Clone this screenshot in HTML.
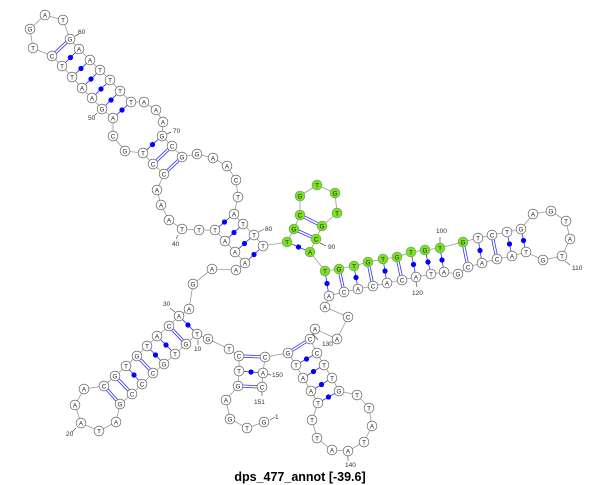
<!DOCTYPE html>
<html><head><meta charset="utf-8"><style>
body{margin:0;background:#fff}
svg{display:block}
text{font-family:"Liberation Sans",sans-serif}
</style></head><body>
<svg id="s" width="600" height="485" viewBox="0 0 600 485" xmlns="http://www.w3.org/2000/svg">
<g id="bb"></g><g id="pp"></g><g id="nn"></g><g id="ll" font-size="6.5" fill="#333"></g>
<text x="300" y="481" text-anchor="middle" font-size="12.5" font-weight="bold" fill="#000">dps_477_annot [-39.6]</text>
</svg>
<script>
var N=[
["G",264,422],["T",247,428],["G",230,419],["A",226,400],["G",238,386],["T",239,371],["C",239,356],["T",229,349],["G",208,339],["T",197,334],
["G",186,344],["T",175,354],["G",164,364],["C",153,373],["C",142,384],["C",132,394],["G",120,404],["A",116,422],["T",99,431],["A",81,423],
["A",75,405],["A",84,389],["C",104,386],["G",115,376],["T",126,366],["G",137,356],["T",147,346],["A",157,336],["C",169,326],["A",179,316],
["A",189,309],["G",193,284],["A",212,269],["A",236,270],["A",245,263],["A",235,252],["A",225,241],["T",215,230],["T",199,230],["T",182,229],
["A",169,220],["A",161,205],["A",157,190],["C",164,174],["C",153,164],["T",143,153],["G",125,151],["C",113,136],["A",113,118],["G",102,109],
["A",92,98],["A",82,88],["T",72,77],["T",62,66],["C",52,56],["T",33,48],["G",30,29],["A",45,15],["T",63,20],["G",70,39],
["A",79,49],["A",90,60],["T",100,70],["T",110,80],["T",120,91],["T",131,102],["A",144,102],["A",156,110],["A",163,122],["G",162,136],
["C",172,146],["G",182,157],["G",197,154],["A",213,158],["A",227,166],["C",236,180],["T",238,197],["A",234,214],["T",243,224],["T",254,235],
["T",263,246],["T",287,242],["G",294,229],["C",300,215],["G",300,196],["T",317,185],["G",335,193],["T",337,213],["G",322,226],["C",316,239],
["A",310,252],["T",325,271],["G",339,269],["T",354,266],["G",368,262],["T",383,259],["G",397,257],["T",411,252],["G",425,250],["T",440,248],
["G",463,242],["T",478,238],["C",492,235],["T",507,232],["G",521,229],["A",533,214],["G",551,211],["T",566,221],["A",570,239],["T",562,256],
["G",543,260],["T",526,252],["A",512,256],["C",497,259],["A",482,263],["C",468,267],["G",458,274],["A",444,272],["T",431,274],["A",416,277],
["C",402,280],["A",387,283],["C",373,286],["A",358,289],["C",344,292],["A",329,296],["A",325,307],["C",348,317],["A",337,339],["A",315,329],
["C",310,339],["C",317,353],["T",324,365],["T",332,378],["G",339,391],["T",357,395],["T",369,408],["A",372,426],["T",364,442],["A",348,451],
["A",332,450],["T",317,438],["T",312,420],["T",318,403],["A",311,391],["A",303,378],["T",296,365],["G",288,353],["C",265,357],["A",263,373],
["C",262,387]];
var P=[[10,30,0],[11,29,1],[12,28,0],[13,27,0],[14,26,1],[15,25,0],[16,24,1],[17,23,1],
[7,149,1],[6,150,0],[5,151,1],[35,81,0],[36,80,0],[37,79,0],[38,78,0],[44,72,1],[45,71,1],[46,70,0],
[49,66,0],[50,65,0],[51,64,0],[52,63,0],[53,62,0],[54,61,0],[55,60,1],
[82,91,0],[83,90,1],[84,89,1],[92,126,0],[93,125,1],[94,124,0],[95,123,1],[96,122,0],[97,121,1],[98,120,0],[99,119,0],[100,118,0],
[101,116,1],[102,115,0],[103,114,1],[104,113,0],[105,112,0],
[131,148,1],[132,147,0],[133,146,0],[134,145,0],[135,144,0]];
// label, text x, text y, tick x1,y1,x2,y2
var L=[["1",275,419,270,420,275,417],["10",194,351,198,340,198,345],["20",66,436,76,428,72,432],["30",163,306,175,312,170,308],
["40",172,246,178,235,176,239],["50",88,120,97,113,94,116],["60",78,34,75,36,79,34],["70",173,133,167,134,171,132],["80",265,231,259,232,264,229],
["90",328,249,320,243,326,246],["100",436,233,440,243,440,237],["110",572,270,565,261,570,265],["120",412,295,416,282,417,287],
["130",322,346,313,334,318,340],["140",345,467,348,456,348,461],["150",272,377,268,374,271,375],["151",254,404,262,392,262,396]];
var ns="http://www.w3.org/2000/svg";
function el(t,a,p){var e=document.createElementNS(ns,t);for(var k in a)e.setAttribute(k,a[k]);document.getElementById(p).appendChild(e);return e;}
var pts=N.map(function(n){return n[1]+","+n[2]}).join(" ");
el("polyline",{points:pts,fill:"none",stroke:"#999","stroke-width":"0.8"},"bb");
P.forEach(function(p){var a=N[p[0]-1],b=N[p[1]-1];
 var dx=b[1]-a[1],dy=b[2]-a[2],d=Math.sqrt(dx*dx+dy*dy),ux=dx/d,uy=dy/d;
 var x1=a[1]+ux*5,y1=a[2]+uy*5,x2=b[1]-ux*5,y2=b[2]-uy*5;
 if(p[2]){var ox=-uy*1.2,oy=ux*1.2;
  el("line",{x1:x1+ox,y1:y1+oy,x2:x2+ox,y2:y2+oy,stroke:"#33f","stroke-width":"0.8"},"pp");
  el("line",{x1:x1-ox,y1:y1-oy,x2:x2-ox,y2:y2-oy,stroke:"#33f","stroke-width":"0.8"},"pp");}
 else{el("line",{x1:x1,y1:y1,x2:x2,y2:y2,stroke:"#33f","stroke-width":"0.8"},"pp");
  el("circle",{cx:(a[1]+b[1])/2,cy:(a[2]+b[2])/2,r:2.6,fill:"#00f"},"pp");}
});
N.forEach(function(n,i){var g=(i>=81&&i<=100);
 el("circle",{cx:n[1],cy:n[2],r:4.9,fill:g?"#7fe020":"#fff",stroke:g?"#6a6":"#666","stroke-width":"0.7"},"nn");
 var t=el("text",{x:n[1],y:n[2]+2.3,"text-anchor":"middle","font-size":"6.3",fill:"#222"},"nn");t.textContent=n[0];
});
L.forEach(function(l){var t=el("text",{x:l[1],y:l[2]},"ll");t.textContent=l[0];
 el("line",{x1:l[3],y1:l[4],x2:l[5],y2:l[6],stroke:"#555","stroke-width":"0.7"},"ll");});
</script>
</body></html>
